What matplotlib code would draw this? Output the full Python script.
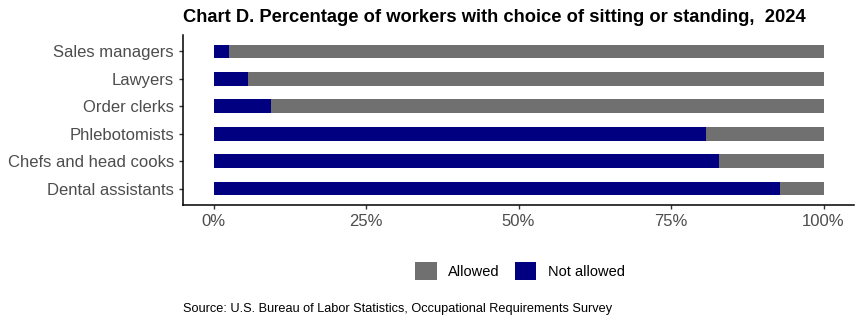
import numpy as np
import matplotlib.pyplot as plt
from matplotlib.patches import Patch

plt.rcParams['font.family'] = ['Liberation Sans', 'DejaVu Sans']

# data (top to bottom as displayed)
occupations = ['Sales managers', 'Lawyers', 'Order clerks', 'Phlebotomists',
               'Chefs and head cooks', 'Dental assistants']
not_allowed = [2.5, 5.6, 9.5, 80.7, 82.8, 92.8]
allowed = [100 - v for v in not_allowed]

gray = '#707070'
navy = '#000080'

fig = plt.figure(figsize=(8.64, 3.24), dpi=100)
ax = fig.add_axes([183 / 864, 1 - 205 / 324, (854 - 183) / 864, (205 - 35) / 324])

y = np.arange(len(occupations))[::-1]
ax.barh(y, not_allowed, height=0.5, color=navy)
ax.barh(y, allowed, left=not_allowed, height=0.5, color=gray)

ax.set_yticks(y)
ax.set_yticklabels(occupations)
ax.set_ylim(-0.6, len(occupations) - 0.4)
ax.set_xlim(-5, 105)
ax.set_xticks([0, 25, 50, 75, 100])
ax.set_xticklabels(['0%', '25%', '50%', '75%', '100%'])

for s in ['top', 'right']:
    ax.spines[s].set_visible(False)
for s in ['left', 'bottom']:
    ax.spines[s].set_linewidth(1.1)
ax.tick_params(axis='both', labelsize=12, labelcolor='#4d4d4d', length=3, width=1, color='#333333')

fig.text(183 / 864, 1 - 17.5 / 324, 'Chart D. Percentage of workers with choice of sitting or standing,  2024',
         fontsize=13.2, fontweight='bold', ha='left', va='center')

handles = [Patch(facecolor=gray, label='Allowed'), Patch(facecolor=navy, label='Not allowed')]
fig.legend(handles=handles, loc='center', bbox_to_anchor=(520 / 864, 1 - 271 / 324), ncol=2,
           frameon=False, fontsize=10.5, handlelength=1.5, handleheight=1.5, handletextpad=0.8,
           columnspacing=1.0)

fig.text(183 / 864, 1 - 309 / 324, 'Source: U.S. Bureau of Labor Statistics, Occupational Requirements Survey',
         fontsize=9.2, ha='left', va='center')

fig.savefig('out.png', dpi=100)
